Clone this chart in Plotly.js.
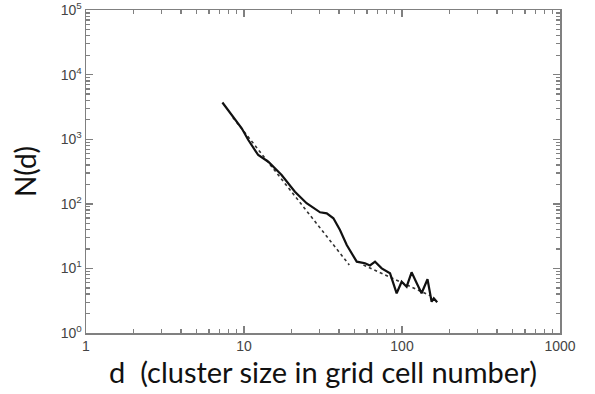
<!DOCTYPE html>
<html>
<head>
<meta charset="utf-8">
<script src="https://cdn.plot.ly/plotly-3.0.1.min.js"></script>
<style>
  html, body { margin: 0; padding: 0; background: #fff; }
  #chart { width: 595px; height: 394px; }
</style>
</head>
<body>
<div id="chart"></div>
<script>
// Cluster size distribution N(d)
const clusterSize = [7.3, 9.67, 10.65, 12.3, 14.25, 17.3, 21.0, 24.9, 30.3, 33.4, 36.8, 40.5, 44.7, 49.2,
  51.7, 55.6, 58.3, 62.7, 67.5, 74.4, 84.0, 92.5, 99.5, 107, 115, 124, 133, 145, 154, 159, 167];
const clusterCount = [3700, 1475, 972, 569, 448, 279, 154, 102, 73.9, 71.2, 59.7, 39.3, 23.0, 15.2,
  12.7, 12.3, 12.0, 11.1, 12.7, 10.0, 8.4, 4.12, 6.22, 5.21, 8.7, 5.88, 4.12, 6.78, 3.05, 3.44, 2.99];

// power-law fits (two regimes)
const fitSmallX = [8.5, 46.4];
const fitSmallY = [2170, 11.3];
const fitLargeX = [57, 150];
const fitLargeY = [11.3, 3.8];

// axis ticks
const xTickVals = [1, 10, 100, 1000];
const xTickText = ['1', '10', '100', '1000'];
const yTickVals = [1, 10, 100, 1000, 10000, 100000];
const yTickText = ['10<sup>0</sup>', '10<sup>1</sup>', '10<sup>2</sup>', '10<sup>3</sup>', '10<sup>4</sup>', '10<sup>5</sup>'];
const minorSteps = [2, 3, 4, 5, 6, 7, 8, 9];

// minor tick positions: 2..9 within each decade
function minorTicks(decades) {
  const out = [];
  decades.forEach(d => minorSteps.forEach(m => out.push(d * m)));
  return out;
}

const axisGrey = '#808080';

const traces = [
  { x: fitSmallX, y: fitSmallY, mode: 'lines', line: { color: '#333', width: 1.6, dash: 'dot' }, hoverinfo: 'skip' },
  { x: fitLargeX, y: fitLargeY, mode: 'lines', line: { color: '#333', width: 1.6, dash: 'dot' }, hoverinfo: 'skip' },
  { x: clusterSize, y: clusterCount, mode: 'lines', line: { color: '#111', width: 2.2 }, hoverinfo: 'skip' }
];

const commonAxis = {
  type: 'log',
  showgrid: false,
  zeroline: false,
  showline: true,
  linecolor: axisGrey,
  linewidth: 1.5,
  mirror: 'ticks',
  ticks: 'inside',
  ticklen: 7,
  tickwidth: 1.4,
  tickcolor: axisGrey,
  tickfont: { family: 'Liberation Sans, Arial, sans-serif', size: 14, color: '#444' }
};

const minorStyle = { ticks: 'inside', ticklen: 4, tickwidth: 1.3, tickcolor: axisGrey, showgrid: false };

const layout = {
  width: 595,
  height: 394,
  margin: { l: 86, r: 35, t: 10, b: 61 },
  paper_bgcolor: '#fff',
  plot_bgcolor: '#fff',
  showlegend: false,
  xaxis: Object.assign({}, commonAxis, {
    range: [0, 3],
    tickmode: 'array',
    tickvals: xTickVals,
    ticktext: xTickText,
    minor: Object.assign({ tickvals: minorTicks([1, 10, 100]) }, minorStyle),
    title: {
      text: 'd\u00A0 (cluster size in grid cell number)',
      font: { family: 'Lato, Carlito, Calibri, sans-serif', size: 29, color: '#111' },
      standoff: 9
    }
  }),
  yaxis: Object.assign({}, commonAxis, {
    range: [0, 5],
    tickmode: 'array',
    tickvals: yTickVals,
    ticktext: yTickText,
    minor: Object.assign({ tickvals: minorTicks([1, 10, 100, 1000, 10000]) }, minorStyle),
    title: {
      text: 'N(d)',
      font: { family: 'Lato, Carlito, Calibri, sans-serif', size: 28, color: '#111' },
      standoff: 16
    }
  })
};

Plotly.newPlot('chart', traces, layout, { displayModeBar: false, staticPlot: true });
</script>
</body>
</html>
